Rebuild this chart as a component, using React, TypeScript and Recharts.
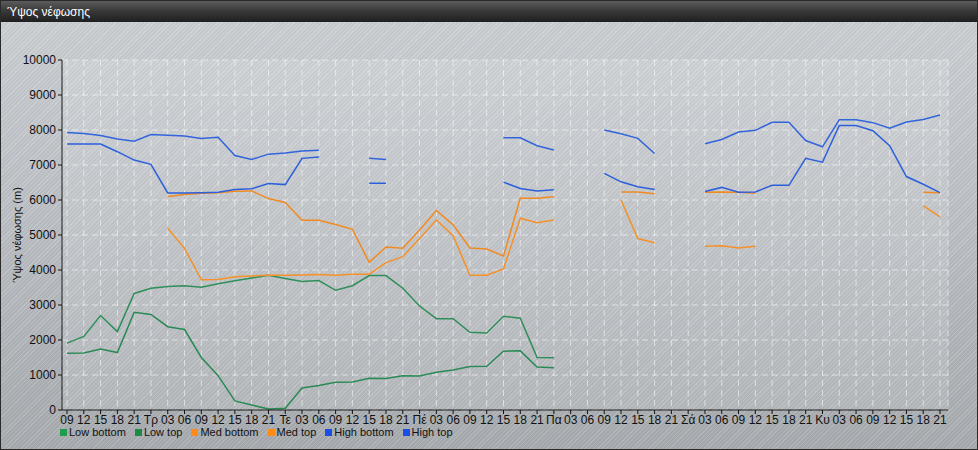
import React from "react";
import {
  LineChart,
  Line,
  XAxis,
  YAxis,
  CartesianGrid,
  Label,
} from "recharts";

// x categories (3-hourly, day names at 00)
const hours = [
  "09", "12", "15", "18", "21",
  "Τρ", "03", "06", "09", "12", "15", "18", "21",
  "Τε", "03", "06", "09", "12", "15", "18", "21",
  "Πέ", "03", "06", "09", "12", "15", "18", "21",
  "Πα", "03", "06", "09", "12", "15", "18", "21",
  "Σά", "03", "06", "09", "12", "15", "18", "21",
  "Κυ", "03", "06", "09", "12", "15", "18", "21",
];

const yTicks = [0, 1000, 2000, 3000, 4000, 5000, 6000, 7000, 8000, 9000, 10000];

const n = null;

const lowBottom = [
  1620, 1630, 1740, 1640, 2790, 2730, 2380, 2300, 1500, 980, 260, 140, 30, 50,
  630, 700, 790, 800, 910, 900, 980, 970, 1080, 1140, 1240, 1250, 1680, 1690,
  1230, 1210, n, n, n, n, n, n, n, n, n, n, n, n, n, n, n, n, n, n, n, n, n, n, n,
];

const lowTop = [
  1910, 2100, 2700, 2240, 3330, 3480, 3530, 3550, 3510, 3610, 3690, 3770, 3850,
  3760, 3670, 3700, 3420, 3550, 3840, 3840, 3480, 2970, 2610, 2610, 2220, 2200,
  2680, 2620, 1500, 1490, n, n, n, n, n, n, n, n, n, n, n, n, n, n, n, n, n, n, n,
  n, n, n, n,
];

const medBottom = [
  n, n, n, n, n, n, 5190, 4620, 3720, 3730, 3810, 3830, 3850, 3850, 3860, 3870,
  3850, 3880, 3880, 4210, 4380, 4900, 5430, 4980, 3850, 3850, 4030, 5480, 5350,
  5430, n, n, n, 6000, 4900, 4780, n, n, 4680, 4690, 4630, 4680, n, n, n, n, n,
  n, n, n, n, 5840, 5520,
];

const medTop = [
  n, n, n, n, n, n, 6100, 6160, 6190, 6210, 6250, 6260, 6040, 5930, 5420, 5420,
  5300, 5160, 4220, 4660, 4620, 5140, 5700, 5290, 4630, 4600, 4400, 6050, 6050,
  6090, n, n, n, 6230, 6230, 6180, n, n, 6220, 6230, 6220, 6190, n, n, n, n, n,
  n, n, n, n, 6220, 6210,
];

const highBottom = [
  7600, 7600, 7600, 7380, 7140, 7020, 6200, 6200, 6210, 6220, 6300, 6320, 6470,
  6440, 7190, 7230, n, n, 6480, 6480, n, n, n, n, n, n, 6510, 6330, 6260, 6290,
  n, n, 6760, 6520, 6380, 6300, n, n, 6240, 6360, 6220, 6230, 6420, 6420, 7190,
  7080, 8130, 8130, 7980, 7550, 6670, 6450, 6210,
];

const highTop = [
  7930, 7900, 7840, 7740, 7680, 7870, 7850, 7830, 7760, 7790, 7270, 7160, 7310,
  7340, 7400, 7420, n, n, 7190, 7160, n, n, n, n, n, n, 7780, 7780, 7550, 7430,
  n, n, 8000, 7890, 7760, 7330, n, n, 7610, 7730, 7940, 7990, 8220, 8220, 7700,
  7520, 8290, 8290, 8210, 8050, 8230, 8300, 8430,
];

const series = [
  { key: "lowBottom", name: "Low bottom", color: "#2a8a55", legend: "#1f9c4c" },
  { key: "lowTop", name: "Low top", color: "#2e8f5a", legend: "#1a8a45" },
  { key: "medBottom", name: "Med bottom", color: "#f59128", legend: "#ff8c1a" },
  { key: "medTop", name: "Med top", color: "#f28a22", legend: "#ff8a14" },
  { key: "highBottom", name: "High bottom", color: "#2c5fdc", legend: "#1a4fe6" },
  { key: "highTop", name: "High top", color: "#3264dc", legend: "#1a4fe6" },
];

const data = hours.map((h, i) => ({
  hour: h,
  lowBottom: lowBottom[i],
  lowTop: lowTop[i],
  medBottom: medBottom[i],
  medTop: medTop[i],
  highBottom: highBottom[i],
  highTop: highTop[i],
}));

const font = "'Liberation Sans', Arial, sans-serif";

const XTick = ({ x, y, payload }: any) => (
  <text x={x} y={y + 8} textAnchor="middle" fontSize={12} fill="#111" fontFamily={font}>
    {payload.value}
  </text>
);

export default function App() {
  return (
    <div
      style={{
        position: "absolute",
        left: 0,
        top: 0,
        width: 976,
        height: 448,
        border: "1px solid #2a2a2a",
        overflow: "hidden",
        fontFamily: font,
        background:
          "repeating-linear-gradient(135deg, rgba(255,255,255,0.1) 0px, rgba(255,255,255,0.1) 1px, rgba(0,0,0,0.03) 1px, rgba(0,0,0,0.03) 3px), linear-gradient(180deg, #cdd1d5 0%, #bcc0c4 50%, #a8acb0 100%)",
      }}
    >
      <div
        style={{
          height: 21,
          background: "linear-gradient(180deg, #5c5c5c 0%, #3a3a3a 45%, #1f1f1f 100%)",
          color: "#fff",
          fontSize: 12,
          lineHeight: "22px",
          paddingLeft: 6,
        }}
      >
        Ύψος νέφωσης
      </div>
      <LineChart
        width={976}
        height={427}
        data={data}
        margin={{ top: 38, right: 29, bottom: 19, left: 0 }}
      >
        <CartesianGrid
          stroke="rgba(255,255,255,0.55)"
          strokeDasharray="6 4"
          fill="rgba(255,255,255,0.12)"
        />
        <XAxis
          dataKey="hour"
          interval={0}
          padding={{ left: 5, right: 8 }}
          tick={<XTick />}
          tickSize={4}
          axisLine={{ stroke: "#111" }}
          tickLine={{ stroke: "#111" }}
          height={20}
        />
        <YAxis
          width={61}
          domain={[0, 10000]}
          ticks={yTicks}
          interval={0}
          tickSize={4}
          tick={{ fontSize: 12, fill: "#111", fontFamily: font }}
          axisLine={{ stroke: "#111" }}
          tickLine={{ stroke: "#111" }}
        >
          <Label
            value="Ύψος νέφωσης (m)"
            angle={-90}
            position="insideLeft"
            offset={16}
            style={{ textAnchor: "middle", fontSize: 11, fill: "#111", fontFamily: font }}
          />
        </YAxis>
        {series.map((s) => (
          <Line
            key={s.key}
            dataKey={s.key}
            name={s.name}
            stroke={s.color}
            strokeWidth={1.5}
            dot={false}
            activeDot={false}
            connectNulls={false}
            isAnimationActive={false}
          />
        ))}
      </LineChart>
      <div
        style={{
          position: "absolute",
          left: 59,
          top: 425,
          display: "flex",
          alignItems: "center",
          fontSize: 11,
          color: "#111",
        }}
      >
        {series.map((s) => (
          <div key={s.key} style={{ display: "flex", alignItems: "center", marginRight: 9 }}>
            <span style={{ width: 7, height: 7, background: s.legend, marginRight: 2, display: "inline-block" }} />
            <span>{s.name}</span>
          </div>
        ))}
      </div>
    </div>
  );
}
